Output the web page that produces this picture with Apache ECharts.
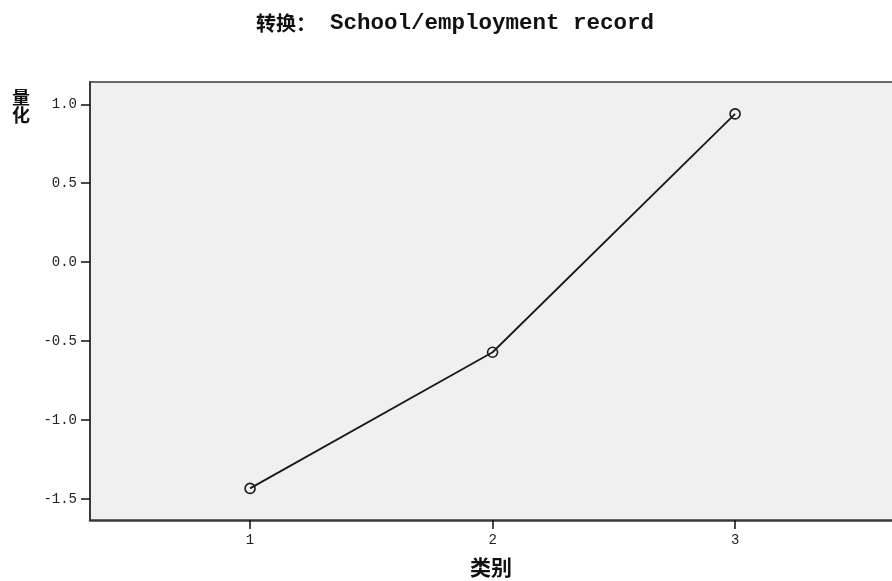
<!DOCTYPE html>
<html>
<head>
<meta charset="utf-8">
<script src="https://cdn.jsdelivr.net/npm/echarts@6/dist/echarts.min.js"></script>
<style>
html,body{margin:0;padding:0;background:#fff;}
#main{width:892px;height:581px;}
</style>
</head>
<body>
<div id="main"></div>
<script>
// Data
const categories = [1, 2, 3];
const quantValues = [-1.432, -0.570, 0.939];
const yTicks = [-1.5, -1.0, -0.5, 0.0, 0.5, 1.0];
const xTicks = [1, 2, 3];
const titlePrefix = '转换：';
const titleText = 'School/employment record';
const yName = '量化';
const xName = '类别';

const chart = echarts.init(document.getElementById('main'), null, {renderer: 'canvas'});
const points = categories.map((c, i) => [c, quantValues[i]]);

const axisColor = '#3a3a3a';
const monoFont = '"Liberation Mono", "DejaVu Sans Mono", monospace';
const cjkFont = '"Noto Sans CJK SC", "Noto Sans CJK JP", sans-serif';
const xMin = 0.34, xMax = 3.647;

chart.setOption({
  backgroundColor: '#ffffff',
  animation: false,
  title: {
    text: '{a|' + titlePrefix + '}{b|' + titleText + '}',
    left: 251,
    top: 7,
    textStyle: {
      rich: {
        a: {fontFamily: cjkFont, fontSize: 20, fontWeight: 'bold', color: '#111', padding: [0, 14, 0, 0]},
        b: {fontFamily: monoFont, fontSize: 22.5, fontWeight: 'bold', color: '#111'}
      }
    }
  },
  graphic: [
    {type: 'text', x: 12, y: 88, style: {text: yName.split('').join('\n'), font: 'bold 18px ' + cjkFont, fill: '#111', lineHeight: 18}},
    {type: 'text', x: 491, y: 557, style: {text: xName, font: 'bold 21px ' + cjkFont, fill: '#111', align: 'center', textAlign: 'center'}}
  ],
  grid: {
    left: 90, top: 82, right: 0, bottom: 61,
    show: true,
    backgroundColor: '#f0f0f0',
    borderWidth: 0
  },
  xAxis: [{
    type: 'value',
    min: xMin,
    max: xMax,
    splitLine: {show: false},
    axisLine: {show: true, onZero: false, lineStyle: {color: axisColor, width: 2.5}},
    axisTick: {show: true, customValues: xTicks, length: 9, lineStyle: {color: '#111', width: 1.5}},
    axisLabel: {customValues: xTicks, fontFamily: monoFont, fontSize: 14, color: '#222', margin: 13}
  }, {
    type: 'value',
    position: 'top',
    min: xMin,
    max: xMax,
    splitLine: {show: false},
    axisLine: {show: true, onZero: false, lineStyle: {color: axisColor, width: 1.5}},
    axisTick: {show: false},
    axisLabel: {show: false}
  }],
  yAxis: {
    type: 'value',
    min: -1.632,
    max: 1.141,
    splitLine: {show: false},
    axisLine: {show: true, onZero: false, lineStyle: {color: axisColor, width: 2}},
    axisTick: {show: true, customValues: yTicks, length: 9, lineStyle: {color: '#111', width: 1.5}},
    axisLabel: {
      customValues: yTicks,
      fontFamily: monoFont, fontSize: 14, color: '#222', margin: 13,
      formatter: v => v.toFixed(1)
    }
  },
  series: [{
    type: 'line',
    xAxisIndex: 0,
    data: points,
    symbol: 'circle',
    symbolSize: 10,
    showAllSymbol: true,
    lineStyle: {color: '#1a1a1a', width: 1.8},
    itemStyle: {color: 'rgba(0,0,0,0)', borderColor: '#1a1a1a', borderWidth: 1.6},
    emphasis: {disabled: true}
  }]
});
</script>
</body>
</html>
